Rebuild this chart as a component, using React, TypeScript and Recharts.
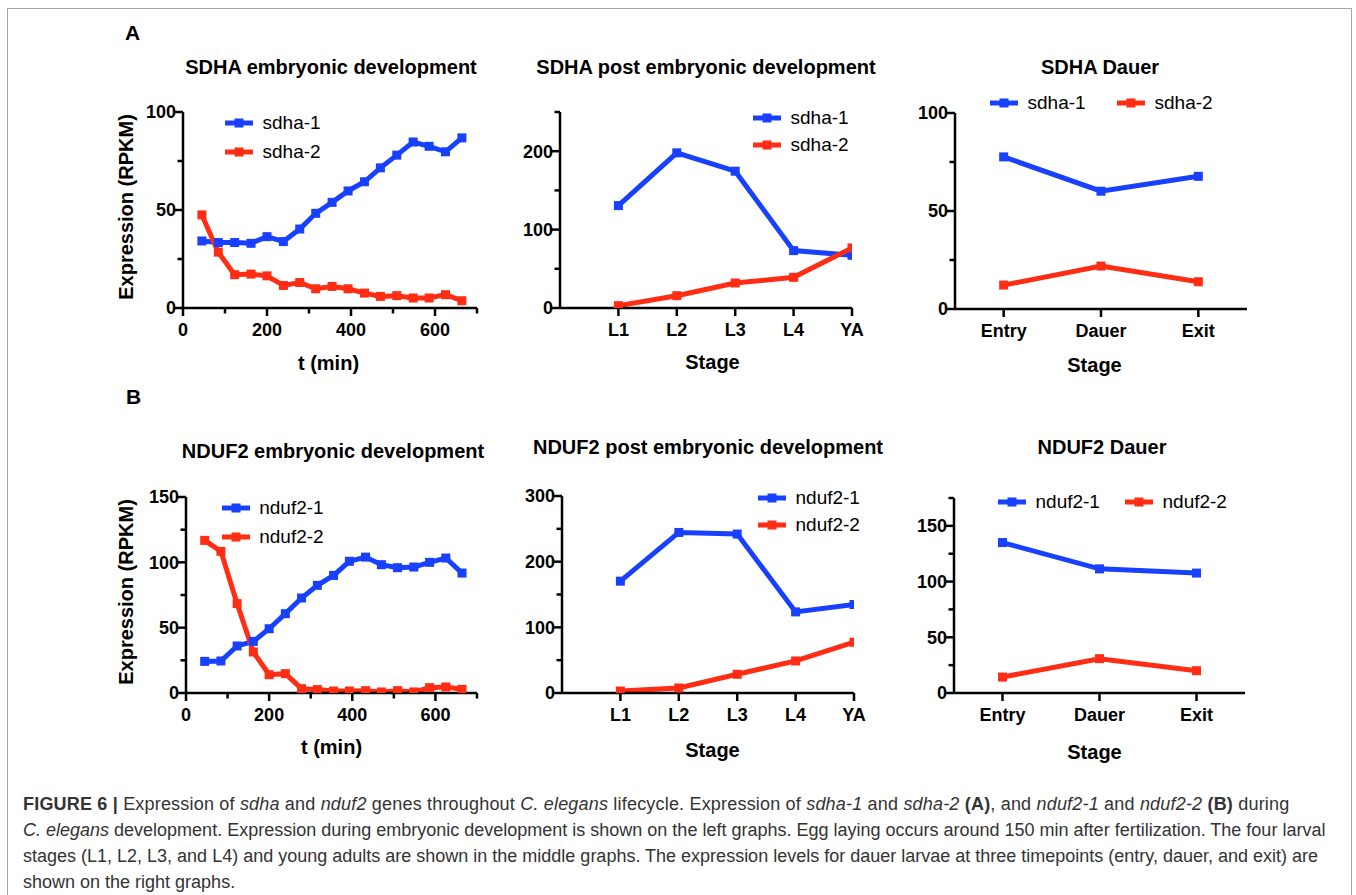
import React from 'react';
import { LineChart, Line, XAxis, YAxis, Legend } from 'recharts';

const BLUE = '#1740ff';
const RED = '#ff2d14';
const FONT = '"Liberation Sans", Arial, Helvetica, sans-serif';

// ---------- data ----------
const embryoTimes = [45, 84, 123, 162, 200, 239, 278, 316, 355, 393, 432, 470, 509, 548, 586, 625, 664];
const sdha1Embryo = [34.2, 33.4, 33.4, 33.0, 36.4, 33.9, 40.3, 48.3, 53.9, 59.7, 64.4, 71.5, 78.0, 84.7, 82.5, 79.7, 86.8];
const sdha2Embryo = [47.5, 28.5, 17.0, 17.3, 16.4, 11.5, 13.0, 9.8, 11.0, 9.8, 7.6, 5.9, 6.3, 5.1, 5.1, 6.8, 3.7];
const nduf21Embryo = [24.2, 24.5, 36.0, 39.5, 49.2, 60.7, 72.7, 82.4, 90.0, 100.8, 104.0, 98.2, 95.9, 96.4, 100.0, 103.3, 91.8];
const nduf22Embryo = [116.8, 108.4, 68.4, 31.4, 14.0, 14.8, 3.3, 2.6, 1.5, 1.5, 1.8, 0.8, 1.8, 0.8, 4.1, 4.6, 2.8];

const postStages = ['L1', 'L2', 'L3', 'L4', 'YA'];
const sdha1Post = [130.6, 197.9, 174.5, 73.2, 67.2];
const sdha2Post = [3.0, 15.7, 31.9, 39.1, 76.6];
const nduf21Post = [170.3, 244.5, 242.0, 123.5, 134.7];
const nduf22Post = [3.0, 7.6, 28.5, 48.8, 77.3];

const dauerStages = ['Entry', 'Dauer', 'Exit'];
const sdha1Dauer = [77.6, 60.1, 67.7];
const sdha2Dauer = [12.2, 21.9, 13.9];
const nduf21Dauer = [135.0, 111.4, 107.6];
const nduf22Dauer = [14.3, 30.8, 20.0];

const embryoXTicks = [0, 100, 200, 300, 400, 500, 600, 700];
const embryoXLabeled = [0, 200, 400, 600];
const sdhaEmbryoYTicks = [0, 25, 50, 75, 100];
const sdhaEmbryoYLabeled = [0, 50, 100];
const sdhaPostYTicks = [0, 50, 100, 150, 200, 250];
const sdhaPostYLabeled = [0, 100, 200];
const sdhaDauerYTicks = [0, 25, 50, 75, 100];
const sdhaDauerYLabeled = [0, 50, 100];
const ndufEmbryoYTicks = [0, 25, 50, 75, 100, 125, 150];
const ndufEmbryoYLabeled = [0, 50, 100, 150];
const ndufPostYTicks = [0, 50, 100, 150, 200, 250, 300];
const ndufPostYLabeled = [0, 100, 200, 300];
const ndufDauerYTicks = [0, 25, 50, 75, 100, 125, 150, 175];
const ndufDauerYLabeled = [0, 50, 100, 150];

const embryoRows = (a: number[], b: number[]) =>
  embryoTimes.map((t, i) => ({ x: t, a: a[i], b: b[i] }));
const stageRows = (stages: string[], a: number[], b: number[]) =>
  stages.map((s, i) => ({ x: i + 1, stage: s, a: a[i], b: b[i] }));

// ---------- layout helpers ----------
const Y_W = 80;
const M_TOP = 20;
const M_RIGHT = 20;
const X_H = 50;

type Plot = { left: number; top: number; width: number; height: number };
type LegendPos = { x: number; y: number };

const SquareDot = (color: string) => (props: any) => {
  const { cx, cy, index } = props;
  if (cx == null || cy == null) return <g key={`d-${index}`} />;
  return <rect key={`d-${index}`} x={cx - 4.5} y={cy - 4.5} width={9} height={9} fill={color} />;
};

function Panel(props: {
  plot: Plot;
  data: any[];
  names: [string, string];
  xDomain: [number, number];
  xTicks: number[];
  xLabeled: number[];
  xFormat: (v: number) => string;
  yDomain: [number, number];
  yTicks: number[];
  yLabeled: number[];
  legend: [LegendPos, LegendPos];
}) {
  const { plot } = props;
  const W = Y_W + plot.width + M_RIGHT;
  const H = M_TOP + plot.height + X_H;
  const originX = plot.left - Y_W;
  const originY = plot.top - M_TOP;
  const axisX = Y_W;
  const axisY = M_TOP + plot.height;

  const YTick = (p: any) => {
    const v = p.payload.value;
    const major = props.yLabeled.includes(v);
    const len = major ? 8 : 5.5;
    return (
      <g>
        <line x1={axisX - len} x2={axisX} y1={p.y} y2={p.y} stroke="#000" strokeWidth={2.5} />
        {major && (
          <text x={axisX - 7} y={p.y} dy="0.36em" textAnchor="end" fontFamily={FONT} fontWeight="bold" fontSize={18} fill="#000">
            {v}
          </text>
        )}
      </g>
    );
  };
  const XTick = (p: any) => {
    const v = p.payload.value;
    const major = props.xLabeled.includes(v);
    const len = major ? 8 : 5.5;
    return (
      <g>
        <line x1={p.x} x2={p.x} y1={axisY} y2={axisY + len} stroke="#000" strokeWidth={2.5} />
        {major && (
          <text x={p.x} y={axisY + 28} textAnchor="middle" fontFamily={FONT} fontWeight="bold" fontSize={18} fill="#000">
            {props.xFormat(v)}
          </text>
        )}
      </g>
    );
  };

  const legendContent = (lp: any) => {
    const payload = lp.payload || [];
    return (
      <div style={{ position: 'relative', width: W, height: H }}>
        {payload.map((entry: any, i: number) => {
          const pos = props.legend[i];
          if (!pos) return null;
          return (
            <div
              key={`lg-${i}`}
              style={{
                position: 'absolute',
                left: pos.x - originX,
                top: pos.y - originY - 14,
                height: 28,
                display: 'flex',
                alignItems: 'center',
                whiteSpace: 'nowrap',
              }}
            >
              <svg width={28} height={12} style={{ display: 'block' }}>
                <line x1={0} x2={28} y1={6} y2={6} stroke={entry.color} strokeWidth={5} />
                <rect x={9.5} y={1.5} width={9} height={9} fill={entry.color} />
              </svg>
              <span style={{ marginLeft: 9.5, fontSize: 19, fontFamily: FONT, color: '#000', lineHeight: '28px' }}>
                {entry.value}
              </span>
            </div>
          );
        })}
      </div>
    );
  };

  return (
    <div style={{ position: 'absolute', left: originX, top: originY }}>
      <LineChart width={W} height={H} data={props.data} margin={{ top: M_TOP, right: M_RIGHT, bottom: 0, left: 0 }}>
        <XAxis
          dataKey="x"
          type="number"
          domain={props.xDomain}
          ticks={props.xTicks}
          interval={0}
          height={X_H}
          axisLine={{ stroke: '#000', strokeWidth: 2.5 }}
          tickLine={false}
          tick={XTick}
          allowDataOverflow
        />
        <YAxis
          type="number"
          domain={props.yDomain}
          ticks={props.yTicks}
          interval={0}
          width={Y_W}
          axisLine={{ stroke: '#000', strokeWidth: 2.5 }}
          tickLine={false}
          tick={YTick}
          allowDataOverflow
        />
        <Legend
          layout="vertical"
          align="center"
          verticalAlign="middle"
          wrapperStyle={{ left: 0, top: 0, width: W, height: H, pointerEvents: 'none' }}
          content={legendContent}
        />
        <Line
          type="linear"
          dataKey="a"
          name={props.names[0]}
          stroke={BLUE}
          strokeWidth={5}
          dot={SquareDot(BLUE)}
          activeDot={false}
          isAnimationActive={false}
        />
        <Line
          type="linear"
          dataKey="b"
          name={props.names[1]}
          stroke={RED}
          strokeWidth={5}
          dot={SquareDot(RED)}
          activeDot={false}
          isAnimationActive={false}
        />
      </LineChart>
    </div>
  );
}

const TextAt = (p: { x: number; y: number; size: number; bold?: boolean; rotate?: boolean; children: React.ReactNode }) => (
  <div
    style={{
      position: 'absolute',
      left: p.x - 300,
      top: p.y - 15,
      width: 600,
      height: 30,
      lineHeight: '30px',
      textAlign: 'center',
      fontFamily: FONT,
      fontWeight: p.bold === false ? 'normal' : 'bold',
      fontSize: p.size,
      color: '#000',
      whiteSpace: 'nowrap',
      transform: p.rotate ? 'rotate(-90deg)' : undefined,
    }}
  >
    {p.children}
  </div>
);

const postFormat = (v: number) => postStages[v - 1] ?? '';
const dauerFormat = (v: number) => dauerStages[v - 1] ?? '';
const numFormat = (v: number) => String(v);

const capStyle: React.CSSProperties = {
  position: 'absolute',
  left: 23,
  fontFamily: FONT,
  fontSize: 18,
  color: '#333',
  whiteSpace: 'nowrap',
  height: 26,
  lineHeight: '26px',
};

export default function App() {
  return (
    <div style={{ position: 'absolute', left: 0, top: 0, width: 1356, height: 895, overflow: 'hidden', background: '#fff' }}>
      <div style={{ position: 'absolute', left: 7, top: 8, width: 1343, height: 940, border: '1px solid #a8a8a8' }} />

      <TextAt x={132.5} y={32.5} size={21}>A</TextAt>
      <TextAt x={133.5} y={397} size={21}>B</TextAt>

      <TextAt x={331} y={67} size={20}>SDHA embryonic development</TextAt>
      <TextAt x={706} y={67} size={20}>SDHA post embryonic development</TextAt>
      <TextAt x={1100} y={67} size={20}>SDHA Dauer</TextAt>
      <TextAt x={333} y={451} size={20}>NDUF2 embryonic development</TextAt>
      <TextAt x={708} y={447} size={20}>NDUF2 post embryonic development</TextAt>
      <TextAt x={1102} y={447} size={20}>NDUF2 Dauer</TextAt>

      <TextAt x={126} y={206.5} size={20} rotate>Expression (RPKM)</TextAt>
      <TextAt x={126} y={591.5} size={20} rotate>Expression (RPKM)</TextAt>
      <TextAt x={328.5} y={363} size={20}>t (min)</TextAt>
      <TextAt x={331.5} y={747} size={20}>t (min)</TextAt>
      <TextAt x={712.5} y={362} size={20}>Stage</TextAt>
      <TextAt x={1094.5} y={365} size={20}>Stage</TextAt>
      <TextAt x={712.5} y={750} size={20}>Stage</TextAt>
      <TextAt x={1094.5} y={752} size={20}>Stage</TextAt>

      <Panel
        plot={{ left: 183, top: 112, width: 294, height: 196 }}
        data={embryoRows(sdha1Embryo, sdha2Embryo)}
        names={['sdha-1', 'sdha-2']}
        xDomain={[0, 700]}
        xTicks={embryoXTicks}
        xLabeled={embryoXLabeled}
        xFormat={numFormat}
        yDomain={[0, 100]}
        yTicks={sdhaEmbryoYTicks}
        yLabeled={sdhaEmbryoYLabeled}
        legend={[{ x: 225, y: 123.3 }, { x: 225, y: 151.7 }]}
      />
      <Panel
        plot={{ left: 560, top: 112, width: 292, height: 196 }}
        data={stageRows(postStages, sdha1Post, sdha2Post)}
        names={['sdha-1', 'sdha-2']}
        xDomain={[0, 5]}
        xTicks={[1, 2, 3, 4, 5]}
        xLabeled={[1, 2, 3, 4, 5]}
        xFormat={postFormat}
        yDomain={[0, 250]}
        yTicks={sdhaPostYTicks}
        yLabeled={sdhaPostYLabeled}
        legend={[{ x: 753, y: 118.3 }, { x: 753, y: 145 }]}
      />
      <Panel
        plot={{ left: 955, top: 113, width: 292, height: 196 }}
        data={stageRows(dauerStages, sdha1Dauer, sdha2Dauer)}
        names={['sdha-1', 'sdha-2']}
        xDomain={[0.5, 3.5]}
        xTicks={[1, 2, 3]}
        xLabeled={[1, 2, 3]}
        xFormat={dauerFormat}
        yDomain={[0, 100]}
        yTicks={sdhaDauerYTicks}
        yLabeled={sdhaDauerYLabeled}
        legend={[{ x: 990, y: 103.3 }, { x: 1117, y: 103.3 }]}
      />
      <Panel
        plot={{ left: 186, top: 497, width: 291, height: 196 }}
        data={embryoRows(nduf21Embryo, nduf22Embryo)}
        names={['nduf2-1', 'nduf2-2']}
        xDomain={[0, 700]}
        xTicks={embryoXTicks}
        xLabeled={embryoXLabeled}
        xFormat={numFormat}
        yDomain={[0, 150]}
        yTicks={ndufEmbryoYTicks}
        yLabeled={ndufEmbryoYLabeled}
        legend={[{ x: 221.7, y: 508.3 }, { x: 221.7, y: 536.7 }]}
      />
      <Panel
        plot={{ left: 562, top: 496, width: 292, height: 197 }}
        data={stageRows(postStages, nduf21Post, nduf22Post)}
        names={['nduf2-1', 'nduf2-2']}
        xDomain={[0, 5]}
        xTicks={[1, 2, 3, 4, 5]}
        xLabeled={[1, 2, 3, 4, 5]}
        xFormat={postFormat}
        yDomain={[0, 300]}
        yTicks={ndufPostYTicks}
        yLabeled={ndufPostYLabeled}
        legend={[{ x: 758, y: 498.3 }, { x: 758, y: 525 }]}
      />
      <Panel
        plot={{ left: 954, top: 498, width: 291, height: 195 }}
        data={stageRows(dauerStages, nduf21Dauer, nduf22Dauer)}
        names={['nduf2-1', 'nduf2-2']}
        xDomain={[0.5, 3.5]}
        xTicks={[1, 2, 3]}
        xLabeled={[1, 2, 3]}
        xFormat={dauerFormat}
        yDomain={[0, 175]}
        yTicks={ndufDauerYTicks}
        yLabeled={ndufDauerYLabeled}
        legend={[{ x: 998, y: 501.7 }, { x: 1125, y: 501.7 }]}
      />

      <div style={{ ...capStyle, top: 791, letterSpacing: 0.19 }}>
        <b>FIGURE 6 |</b> Expression of <i>sdha</i> and <i>nduf2</i> genes throughout <i>C. elegans</i> lifecycle. Expression of{' '}
        <i>sdha-1</i> and <i>sdha-2</i> <b>(A)</b>, and <i>nduf2-1</i> and <i>nduf2-2</i> <b>(B)</b> during
      </div>
      <div style={{ ...capStyle, top: 817 }}>
        <i>C. elegans</i> development. Expression during embryonic development is shown on the left graphs. Egg laying occurs around 150 min after fertilization. The four larval
      </div>
      <div style={{ ...capStyle, top: 843 }}>
        stages (L1, L2, L3, and L4) and young adults are shown in the middle graphs. The expression levels for dauer larvae at three timepoints (entry, dauer, and exit) are
      </div>
      <div style={{ ...capStyle, top: 869 }}>shown on the right graphs.</div>
    </div>
  );
}
